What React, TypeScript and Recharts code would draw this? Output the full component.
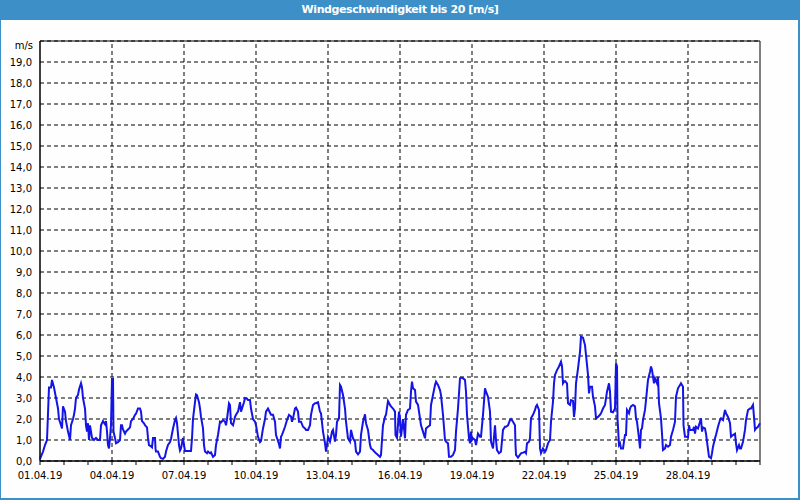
import React from 'react';
import { LineChart, Line, XAxis, YAxis, CartesianGrid, ReferenceLine, ReferenceArea } from 'recharts';

// [hour since 01.04.19 00:00, wind speed m/s]
const days1to5: [number, number][] = [
  [0, 0.1], [3, 0.45], [5, 0.76], [7, 1.0], [9, 3.5], [11, 3.5], [12, 3.86], [14, 3.5], [16, 3.0], [18, 2.5],
  [19, 2.0], [21, 1.7], [22, 1.55], [23, 2.6], [25, 2.35], [26, 1.9], [28, 1.4], [30, 1.0], [31, 1.7], [33, 2.0],
  [34, 2.2], [35, 2.5], [36, 3.0], [38, 3.15], [39, 3.4], [41, 3.7], [42, 3.5], [43, 3.0], [45, 2.5], [46, 1.7],
  [47, 1.4], [48, 1.8], [49, 1.0], [50, 1.7], [51, 1.4], [52, 1.1], [54, 1.0], [56, 1.1], [58, 1.0], [60, 1.0],
  [61, 1.7], [63, 1.9], [65, 1.75], [66, 1.9], [67, 1.4], [68, 0.76], [69, 0.6], [70, 1.1], [71, 1.7], [72, 3.9],
  [73, 3.9], [73.5, 1.4], [75, 1.1], [76, 0.85], [78, 0.9], [80, 1.0], [81, 1.7], [82, 1.7], [83, 1.5], [85, 1.3],
  [86, 1.4], [88, 1.5], [90, 1.6], [91, 1.9], [93, 2.0], [95, 2.2], [96, 2.25], [98, 2.5], [100, 2.5], [101, 2.35],
  [102, 1.9], [104, 1.8], [105, 1.7], [107, 1.6], [108, 1.1], [109, 0.76], [111, 0.7], [112, 0.65], [113, 1.1],
  [115, 1.1], [115.5, 0.6], [116, 0.45], [118, 0.45], [120, 0.2],
];

const days6to10: [number, number][] = [
  [121, 0.13], [123, 0.1], [125, 0.2], [126, 0.45], [128, 0.76], [130, 0.9], [131, 1.05], [133, 1.55], [135, 1.95],
  [136, 2.05], [137, 1.8], [139, 0.76], [140, 0.5], [141, 0.6], [143, 1.1], [144, 0.76], [145, 0.48], [148, 0.48],
  [151, 0.48], [152, 1.08], [153, 2.0], [155, 2.8], [156, 3.17], [157, 3.14], [159, 2.8], [160, 2.5], [161, 2.1],
  [163, 1.55], [164, 0.76], [165, 0.45], [167, 0.37], [168, 0.45], [170, 0.37], [171, 0.41], [173, 0.2], [175, 0.29],
  [176, 0.76], [178, 1.24], [180, 1.87], [181, 1.84], [183, 1.95], [185, 1.87], [186, 1.7], [187, 2.0], [189, 2.75],
  [190, 2.67], [191, 1.8], [193, 1.7], [195, 2.1], [196, 2.2], [198, 2.35], [200, 2.8], [201, 2.35], [202, 2.5],
  [204, 2.8], [205, 3.0], [207, 2.97], [208, 2.9], [210, 2.9], [211, 2.5], [213, 2.0], [215, 1.87], [216, 1.7],
  [218, 1.15], [220, 0.9], [221, 0.95], [223, 1.55], [225, 2.0], [226, 2.35], [228, 2.5], [230, 2.3], [231, 2.2],
  [233, 2.2], [235, 1.87], [236, 1.24], [238, 0.95], [239, 0.8],
];

const days11to15: [number, number][] = [
  [240, 0.6], [241, 1.15], [242, 1.24], [244, 1.5], [245, 1.63], [247, 1.95], [249, 2.2], [251, 2.12], [252, 1.87],
  [253, 2.03], [255, 2.5], [256, 2.54], [258, 2.35], [259, 1.87], [261, 1.87], [263, 1.63], [265, 1.55], [266, 1.48],
  [268, 1.48], [270, 1.7], [271, 2.2], [273, 2.67], [275, 2.75], [276, 2.75], [278, 2.8], [280, 2.35], [281, 2.27],
  [283, 1.4], [285, 0.85], [286, 0.45], [287, 0.76], [288, 1.15], [290, 0.92], [291, 1.15], [292, 1.4], [293, 1.48],
  [295, 0.92], [296, 1.24], [297, 1.87], [299, 2.03], [300, 3.62], [301, 3.54], [303, 3.14], [305, 2.5], [306, 1.87],
  [308, 1.08], [310, 0.92], [311, 1.48], [313, 1.08], [315, 0.92], [316, 0.45], [318, 0.32], [320, 0.45], [321, 1.24],
  [323, 1.87], [325, 2.22], [326, 1.8], [328, 1.48], [330, 0.76], [331, 0.6], [333, 0.52], [335, 0.41], [336, 0.37],
  [338, 0.29], [340, 0.2], [341, 0.29], [343, 1.7], [345, 2.1], [346, 2.2], [348, 2.86], [350, 2.67], [351, 2.6],
  [353, 2.5], [355, 2.35], [355.5, 1.24], [357, 1.1], [359, 2.35],
];

const days16to20: [number, number][] = [
  [360, 2.03], [361, 1.16], [362, 1.55], [363, 2.0], [364, 1.55], [365, 1.08], [366, 2.2], [368, 2.43], [370, 2.5],
  [371, 3.3], [372, 3.78], [373, 3.46], [375, 3.38], [376, 2.83], [378, 2.67], [380, 2.03], [381, 1.7], [383, 1.4],
  [385, 1.08], [386, 1.55], [388, 1.63], [390, 1.7], [391, 2.67], [393, 3.14], [395, 3.62], [396, 3.78], [398, 3.62],
  [400, 3.38], [401, 3.14], [403, 2.2], [405, 1.0], [406, 0.92], [408, 0.84], [409, 0.2], [411, 0.2], [413, 0.29],
  [415, 0.52], [416, 1.4], [418, 2.5], [420, 3.94], [421, 3.97], [423, 3.94], [425, 3.86], [426, 3.3], [427, 2.2],
  [429, 1.08], [430, 0.84], [431, 1.4], [432, 1.0], [433, 1.08], [435, 1.0], [436, 0.76], [438, 1.3], [440, 1.16],
  [441, 1.16], [443, 2.2], [445, 3.46], [446, 3.3], [448, 3.06], [450, 2.35], [451, 0.92], [453, 0.6], [455, 1.7],
  [456, 1.0], [457, 0.52], [459, 0.37], [461, 0.45], [463, 1.48], [465, 1.63], [466, 1.63], [468, 1.7], [470, 1.95],
  [471, 2.0], [473, 1.87], [475, 1.7], [475.5, 0.76], [476, 0.29], [478, 0.16],
];

const days21to25: [number, number][] = [
  [481, 0.37], [483, 0.4], [485, 0.44], [486, 0.37], [487, 0.84], [489, 0.92], [490, 1.08], [491, 2.03], [493, 2.2],
  [495, 2.43], [496, 2.6], [497, 2.67], [499, 2.43], [500, 0.6], [501, 0.37], [503, 0.6], [505, 0.44], [506, 0.52],
  [508, 0.84], [510, 1.0], [511, 1.87], [513, 2.83], [514, 3.7], [515, 4.1], [517, 4.33], [519, 4.5], [521, 4.73],
  [522, 4.5], [523, 3.7], [524, 3.78], [525, 3.81], [527, 3.7], [528, 2.75], [530, 2.67], [531, 2.9], [533, 2.86],
  [534, 2.1], [535, 2.5], [536, 3.7], [538, 4.4], [540, 5.2], [541, 5.92], [543, 5.87], [545, 5.52], [546, 5.05],
  [548, 4.1], [549, 3.22], [550, 3.54], [552, 3.54], [553, 3.06], [555, 2.6], [556, 2.03], [558, 2.1], [560, 2.2],
  [561, 2.27], [563, 2.5], [565, 2.67], [566, 2.98], [567, 3.3], [569, 3.7], [570, 3.3], [571, 2.35], [573, 2.32],
  [575, 2.5], [576, 4.65], [577, 4.5], [577.5, 2.03], [579, 0.76], [580, 0.84], [581, 0.6], [583, 0.6], [585, 1.24],
  [586, 1.24], [587, 2.43], [589, 2.27], [590, 2.5], [591, 2.6], [593, 2.67], [595, 2.6], [596, 2.03], [597, 1.87],
  [599, 1.08],
];

const days26to30: [number, number][] = [
  [600, 0.6], [601, 1.48], [602, 1.55], [603, 1.95], [605, 2.43], [606, 2.9], [608, 3.86], [610, 4.25], [611, 4.5],
  [612, 4.33], [614, 3.7], [615, 3.94], [617, 3.7], [618, 4.0], [619, 2.75], [621, 2.03], [622, 1.3], [623, 0.52],
  [625, 0.6], [626, 0.76], [628, 0.68], [630, 0.76], [631, 1.16], [633, 1.48], [635, 1.87], [636, 3.06], [638, 3.46],
  [640, 3.62], [641, 3.7], [643, 3.54], [643.5, 1.7], [645, 1.16], [646, 1.16], [648, 1.13], [649, 1.7], [650, 1.48],
  [651, 1.48], [653, 1.48], [654, 1.63], [655, 1.3], [656, 1.63], [658, 1.55], [660, 1.87], [661, 2.03], [662, 1.4],
  [663, 1.6], [665, 1.55], [666, 1.3], [667, 0.92], [669, 0.2], [671, 0.13], [672, 0.37], [673, 0.68], [675, 1.08],
  [676, 1.24], [678, 1.63], [680, 1.95], [681, 2.03], [683, 1.95], [685, 2.43], [686, 2.27], [688, 2.1], [690, 1.8],
  [691, 1.16], [693, 1.24], [695, 1.3], [696, 0.84], [697, 0.52], [699, 0.76], [700, 0.6], [701, 0.6], [703, 0.92],
  [705, 1.48], [706, 1.95], [708, 2.43], [710, 2.5], [711, 2.5], [713, 2.67], [714, 2.1], [715, 1.48], [716, 1.55],
  [718, 1.63], [720, 1.8],
];

const dayTicks = Array.from({ length: 31 }, (_, i) => i * 24);
const dateLines = [72, 144, 216, 288, 360, 432, 504, 576, 648];
const speedTicks = Array.from({ length: 20 }, (_, i) => i);

const data = [...days1to5, ...days6to10, ...days11to15, ...days16to20, ...days21to25, ...days26to30].map(
  ([h, v]) => ({ h, v })
);

const BLUE = '#3c8fc7';
const tickFont = { fontSize: 10, fill: '#000', fontFamily: 'DejaVu Sans' };

function dateLabel(h: number) {
  if (h % 72 !== 0 || h >= 720) return '';
  const d = 1 + h / 24;
  return (d < 10 ? '0' + d : '' + d) + '.04.19';
}

export default function App() {
  return (
    <div
      style={{
        position: 'absolute',
        left: 0,
        top: 0,
        width: 800,
        height: 500,
        boxSizing: 'border-box',
        background: '#fdfefd',
        borderLeft: `1px solid ${BLUE}`,
        borderRight: `2px solid ${BLUE}`,
        borderBottom: `2px solid ${BLUE}`,
        overflow: 'hidden',
      }}
    >
      <div
        style={{
          position: 'absolute',
          left: -1,
          top: 0,
          width: 800,
          height: 20,
          background: BLUE,
          color: '#fff',
          fontFamily: 'DejaVu Sans, sans-serif',
          fontWeight: 'bold',
          fontSize: 11,
          letterSpacing: -0.4,
          lineHeight: '20px',
          textAlign: 'center',
        }}
      >
        Windgeschwindigkeit bis 20 [m/s]
      </div>
      <div
        style={{
          position: 'absolute',
          left: -1,
          top: 40,
          width: 33,
          textAlign: 'right',
          fontFamily: 'DejaVu Sans',
          fontSize: 10,
          color: '#000',
        }}
      >
        m/s
      </div>
      <div style={{ position: 'absolute', left: -1, top: 0 }}>
        <LineChart width={800} height={500} data={data} margin={{ top: 41, right: 40, bottom: 9, left: 0 }}>
          <CartesianGrid vertical={false} stroke="#000" strokeDasharray="4 3" />
          {dateLines.map((h) => (
            <ReferenceLine key={h} x={h} stroke="#000" strokeDasharray="4 3" />
          ))}
          <XAxis
            type="number"
            dataKey="h"
            domain={[0, 720]}
            ticks={dayTicks}
            interval={0}
            tickFormatter={dateLabel}
            tick={tickFont}
            tickSize={4}
            tickMargin={7}
            stroke="#000"
            height={30}
          />
          <YAxis
            type="number"
            domain={[0, 20]}
            ticks={speedTicks}
            interval={0}
            tickFormatter={(v: number) => v.toFixed(1).replace('.', ',')}
            tick={tickFont}
            tickLine={false}
            stroke="#000"
            width={40}
          />
          <ReferenceArea x1={0} x2={720} y1={0} y2={20} fill="none" stroke="#000" ifOverflow="visible" />
          <Line
            type="linear"
            dataKey="v"
            stroke="#1414e6"
            strokeWidth={2}
            dot={false}
            isAnimationActive={false}
          />
        </LineChart>
      </div>
    </div>
  );
}
